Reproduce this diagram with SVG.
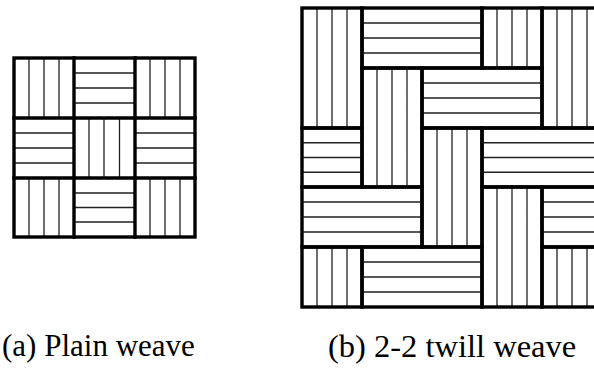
<svg xmlns="http://www.w3.org/2000/svg" width="594" height="368" viewBox="0 0 594 368">
<style>
.thin{fill:none;stroke:#222;stroke-width:1.3}
.thick{fill:none;stroke:#000;stroke-width:3.4;stroke-linejoin:miter;stroke-linecap:square}
</style>
<rect width="594" height="368" fill="#fff"/>
<g id="plain-weave">
<path class="thin" d="M29 58V118M44 58V118M59 58V118
M150 58V118M165 58V118M180 58V118
M89 118V178M104 118V178M119.5 118V178
M29 178V237M44 178V237M59 178V237
M150 178V237M165 178V237M180 178V237
M74 73H135M74 88H135M74 103H135
M14 133H74M14 148H74M14 163H74
M135 133H195M135 148H195M135 163H195
M74 193H135M74 207.5H135M74 222H135"/>
<rect class="thick" x="14" y="58" width="181" height="179"/>
<path class="thick" d="M74 58V237M135 58V237M14 118H195M14 178H195"/>
</g>
<g id="twill-weave">
<path class="thin" d="
M317 8V128M332 8V128M347 8V128
M362 23H482M362 38H482M362 53H482
M497 8V68M512 8V68M527 8V68
M557 8V128M572 8V128M587 8V128
M377 68V187M392 68V187M407 68V187
M422 83H542M422 98H542M422 113H542
M302 142.75H362M302 157.5H362M302 172.25H362
M437 128V247M452 128V247M467 128V247
M482 142.75H602M482 157.5H602M482 172.25H602
M302 202H422M302 217H422M302 232H422
M497 187V307M512 187V307M527 187V307
M542 202H602M542 217H602M542 232H602
M317 247V307M332 247V307M347 247V307
M362 262H482M362 277H482M362 292H482
M557 247V307M572 247V307M587 247V307"/>
<rect class="thick" x="302" y="8" width="60" height="120"/>
<rect class="thick" x="362" y="8" width="120" height="60"/>
<rect class="thick" x="482" y="8" width="60" height="60"/>
<rect class="thick" x="542" y="8" width="60" height="120"/>
<rect class="thick" x="362" y="68" width="60" height="119"/>
<rect class="thick" x="422" y="68" width="120" height="60"/>
<rect class="thick" x="302" y="128" width="60" height="59"/>
<rect class="thick" x="422" y="128" width="60" height="119"/>
<rect class="thick" x="482" y="128" width="120" height="59"/>
<rect class="thick" x="302" y="187" width="120" height="60"/>
<rect class="thick" x="482" y="187" width="60" height="120"/>
<rect class="thick" x="542" y="187" width="60" height="60"/>
<rect class="thick" x="302" y="247" width="60" height="60"/>
<rect class="thick" x="362" y="247" width="120" height="60"/>
<rect class="thick" x="542" y="247" width="60" height="60"/>
</g>
<g id="labels" font-family="'Liberation Serif', 'Times New Roman', 'DejaVu Serif', serif" fill="#000">
<text x="2" y="356" font-size="31">(a) Plain weave</text>
<text x="328" y="357" font-size="32.5">(b) 2-2 twill weave</text>
</g>
</svg>
